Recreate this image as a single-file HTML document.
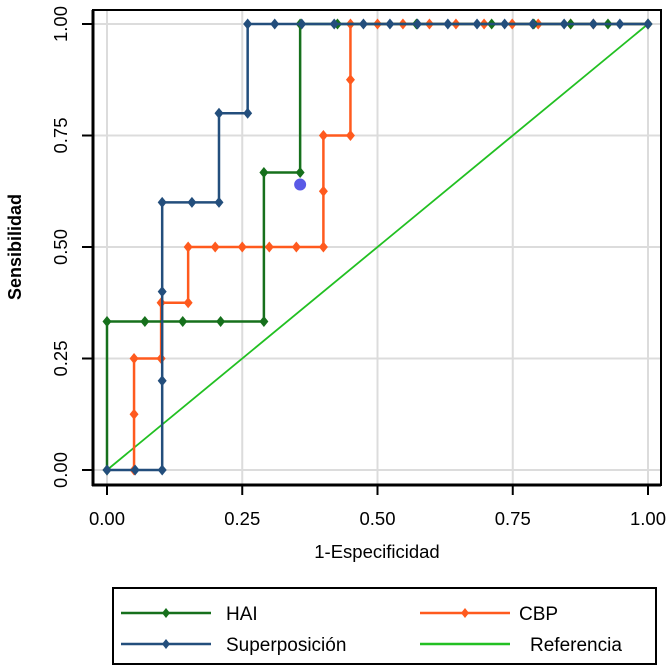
<!DOCTYPE html>
<html><head><meta charset="utf-8"><style>
body{margin:0;background:#fff;}
svg text{font-family:"Liberation Sans",sans-serif;}
</style></head><body>
<svg id="chart" width="672" height="667" xmlns="http://www.w3.org/2000/svg"></svg>
<script>
const ticks=[0,0.25,0.5,0.75,1];
const tickLabels=["0.00","0.25","0.50","0.75","1.00"];
const haiX=[0,0,0.07,0.14,0.21,0.29,0.29,0.357,0.357,0.426,0.572,0.711,0.789,0.857,0.926,1];
const haiY=[0,0.333,0.333,0.333,0.333,0.333,0.667,0.667,1,1,1,1,1,1,1,1];
const cbpX=[0.05,0.05,0.05,0.1,0.1,0.15,0.15,0.2,0.25,0.3,0.35,0.4,0.4,0.4,0.45,0.45,0.45,0.5,0.547,0.596,0.645,0.697,0.749,0.797,0.857,0.899,1];
const cbpY=[0,0.125,0.25,0.25,0.375,0.375,0.5,0.5,0.5,0.5,0.5,0.5,0.625,0.75,0.75,0.875,1,1,1,1,1,1,1,1,1,1,1];
const supX=[0,0.052,0.102,0.102,0.102,0.102,0.157,0.207,0.207,0.26,0.26,0.31,0.36,0.42,0.474,0.523,0.574,0.63,0.684,0.735,0.787,0.845,0.899,0.948,1];
const supY=[0,0,0,0.2,0.4,0.6,0.6,0.6,0.8,0.8,1,1,1,1,1,1,1,1,1,1,1,1,1,1,1];
const optX=[0.357], optY=[0.64];

const svg=document.getElementById('chart');
const NS='http://www.w3.org/2000/svg';
const X=v=>107+v*541, Y=v=>470-v*446;
function mk(t,a,p){const e=document.createElementNS(NS,t);for(const k in a)e.setAttribute(k,a[k]);(p||svg).appendChild(e);return e;}
ticks.forEach((t,i)=>{
 let g=mk('line',{x1:X(t),x2:X(t),y1:10,y2:485,stroke:'#dcdcdc','stroke-width':2});
 
 
 let h=mk('line',{x1:93,x2:661,y1:Y(t),y2:Y(t),stroke:'#dcdcdc','stroke-width':2});
 
 
 let tx=mk('line',{x1:X(t),x2:X(t),y1:485,y2:495,stroke:'#000','stroke-width':2});
 
 
 let ty=mk('line',{x1:82,x2:93,y1:Y(t),y2:Y(t),stroke:'#000','stroke-width':2});
 
 
 let lx=mk('text',{x:X(t),y:525,'text-anchor':'middle','font-size':18.5});
 lx.textContent=tickLabels[i];
 
 
 let ly=mk('text',{x:0,y:0,'text-anchor':'middle','font-size':18.5,transform:`translate(67,${Y(t)}) rotate(-90)`});
 ly.textContent=tickLabels[i];
 
 
});
let fr=mk('rect',{x:93,y:10,width:568,height:475,fill:'none',stroke:'#000','stroke-width':2});


mk('line',{x1:93,x2:93,y1:10,y2:486,stroke:'#000','stroke-width':3});
mk('line',{x1:92,x2:661,y1:485,y2:485,stroke:'#000','stroke-width':3});
let ref=mk('line',{x1:X(0),y1:Y(0),x2:X(1),y2:Y(1),stroke:'#22c022','stroke-width':1.8});


function series(xs,ys,col,name){
 const g=mk('g',{});
 
 
 let d='';
 xs.forEach((x,i)=>{d+=(i?'L':'M')+X(x)+' '+Y(ys[i]);});
 mk('path',{d:d,fill:'none',stroke:col,'stroke-width':2.5},g);
 xs.forEach((x,i)=>{
  const p=mk('path',{d:`M${X(x)} ${Y(ys[i])-5.5}l4.5 5.5l-4.5 5.5l-4.5-5.5z`,fill:col},g);
  
  
 });
}
series(cbpX,cbpY,'#ff5a1e','cbp');
series(haiX,haiY,'#16701c','hai');
series(supX,supY,'#234e7c','superposicion');
optX.forEach((x,i)=>{
 const c=mk('circle',{cx:X(x),cy:Y(optY[i]),r:6,fill:'#5a5ae6'});
 
 
});
let xt=mk('text',{x:377,y:558,'text-anchor':'middle','font-size':18.5});
xt.textContent='1-Especificidad';


let yt=mk('text',{x:0,y:0,'text-anchor':'middle','font-size':18,'font-weight':'bold',transform:'translate(21,247) rotate(-90)'});
yt.textContent='Sensibilidad';


const lg=mk('g',{});


mk('rect',{x:113,y:588,width:543,height:76,fill:'#fff',stroke:'#000','stroke-width':2},lg);
function entry(x,y,col,label,marker,tx){
 const g=mk('g',{},lg);
 
 
 mk('line',{x1:x,x2:x+90,y1:y,y2:y,stroke:col,'stroke-width':2.5},g);
 if(marker)mk('path',{d:`M${x+45} ${y-5}l4 5l-4 5l-4-5z`,fill:col},g);
 const t=mk('text',{x:tx,y:y+7,'font-size':19},g);t.textContent=label;
}
entry(121,613,'#16701c','HAI',true,226);
entry(420,613,'#ff5a1e','CBP',true,519);
entry(121,644,'#234e7c','Superposición',true,226);
entry(420,644,'#22c022','Referencia',false,530);
</script>
</body></html>
